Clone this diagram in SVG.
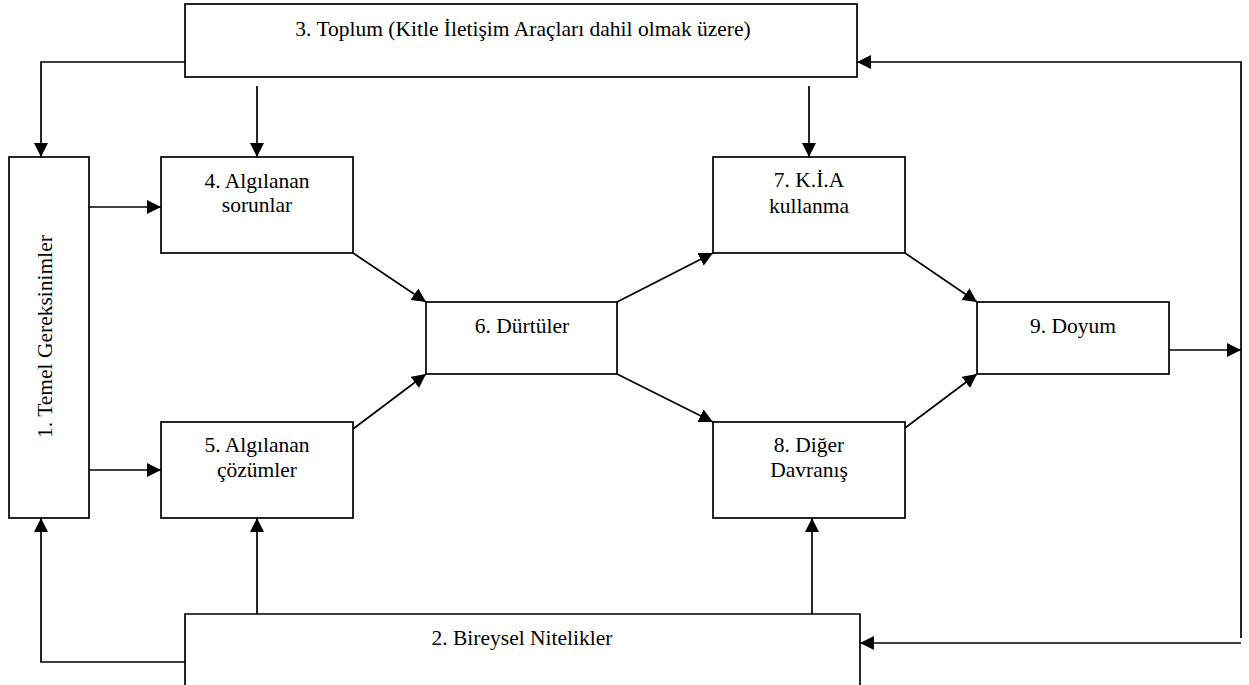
<svg xmlns="http://www.w3.org/2000/svg" width="1249" height="685" viewBox="0 0 1249 685">
<style>
.box{fill:#fff;stroke:#000;stroke-width:1.7}
.lbl{font-family:"Liberation Serif","Times New Roman",serif;font-size:21.5px;fill:#000;text-anchor:middle}
.con{fill:none;stroke:#000;stroke-width:1.7}
</style>
<defs>
<marker id="ah" markerUnits="userSpaceOnUse" markerWidth="14" markerHeight="14" refX="14" refY="7" orient="auto">
<path d="M0,0 L14,7 L0,14 z" fill="#000"/>
</marker>
</defs>
<rect width="1249" height="685" fill="#fff"/>
<g id="connectors">
<path class="con" d="M185,62 H41 V157" marker-end="url(#ah)"/>
<path class="con" d="M257,86 V157" marker-end="url(#ah)"/>
<path class="con" d="M809,86 V157" marker-end="url(#ah)"/>
<path class="con" d="M89,207 H161" marker-end="url(#ah)"/>
<path class="con" d="M89,470 H161" marker-end="url(#ah)"/>
<path class="con" d="M353,253 L426,302" marker-end="url(#ah)"/>
<path class="con" d="M353,429 L426,374" marker-end="url(#ah)"/>
<path class="con" d="M617,302 L713,253" marker-end="url(#ah)"/>
<path class="con" d="M617,374 L713,422" marker-end="url(#ah)"/>
<path class="con" d="M905,253 L977,302" marker-end="url(#ah)"/>
<path class="con" d="M905,428 L977,374" marker-end="url(#ah)"/>
<path class="con" d="M1169,350 H1241" marker-end="url(#ah)"/>
<path class="con" d="M1241,350 V62 H857" marker-end="url(#ah)"/>
<path class="con" d="M1241,350 V638"/>
<path class="con" d="M1241,643 H860" marker-end="url(#ah)"/>
<path class="con" d="M185,662 H41 V518" marker-end="url(#ah)"/>
<path class="con" d="M257,614 V518" marker-end="url(#ah)"/>
<path class="con" d="M812,614 V518" marker-end="url(#ah)"/>
</g>
<g id="n3"><rect class="box" x="185" y="4" width="672" height="73"/><text class="lbl" x="523" y="36">3. Toplum (Kitle İletişim Araçları dahil olmak üzere)</text></g>
<g id="n1"><rect class="box" x="9" y="157" width="80" height="361"/><text class="lbl" transform="translate(52,336.5) rotate(-90)">1. Temel Gereksinimler</text></g>
<g id="n4"><rect class="box" x="161" y="157" width="192" height="96"/><text class="lbl" x="257" y="188">4. Algılanan</text><text class="lbl" x="257" y="212">sorunlar</text></g>
<g id="n5"><rect class="box" x="161" y="422" width="192" height="96"/><text class="lbl" x="257" y="452">5. Algılanan</text><text class="lbl" x="257" y="477">çözümler</text></g>
<g id="n6"><rect class="box" x="426" y="302" width="191" height="72"/><text class="lbl" x="522" y="333">6. Dürtüler</text></g>
<g id="n7"><rect class="box" x="713" y="157" width="192" height="96"/><text class="lbl" x="809" y="187">7. K.İ.A</text><text class="lbl" x="809" y="213">kullanma</text></g>
<g id="n8"><rect class="box" x="713" y="422" width="192" height="96"/><text class="lbl" x="809" y="452">8. Diğer</text><text class="lbl" x="809" y="477">Davranış</text></g>
<g id="n9"><rect class="box" x="977" y="302" width="192" height="72"/><text class="lbl" x="1073" y="333">9. Doyum</text></g>
<g id="n2"><path class="box" d="M185,690 V614 H860 V690"/><text class="lbl" x="522" y="645">2. Bireysel Nitelikler</text></g>
</svg>
